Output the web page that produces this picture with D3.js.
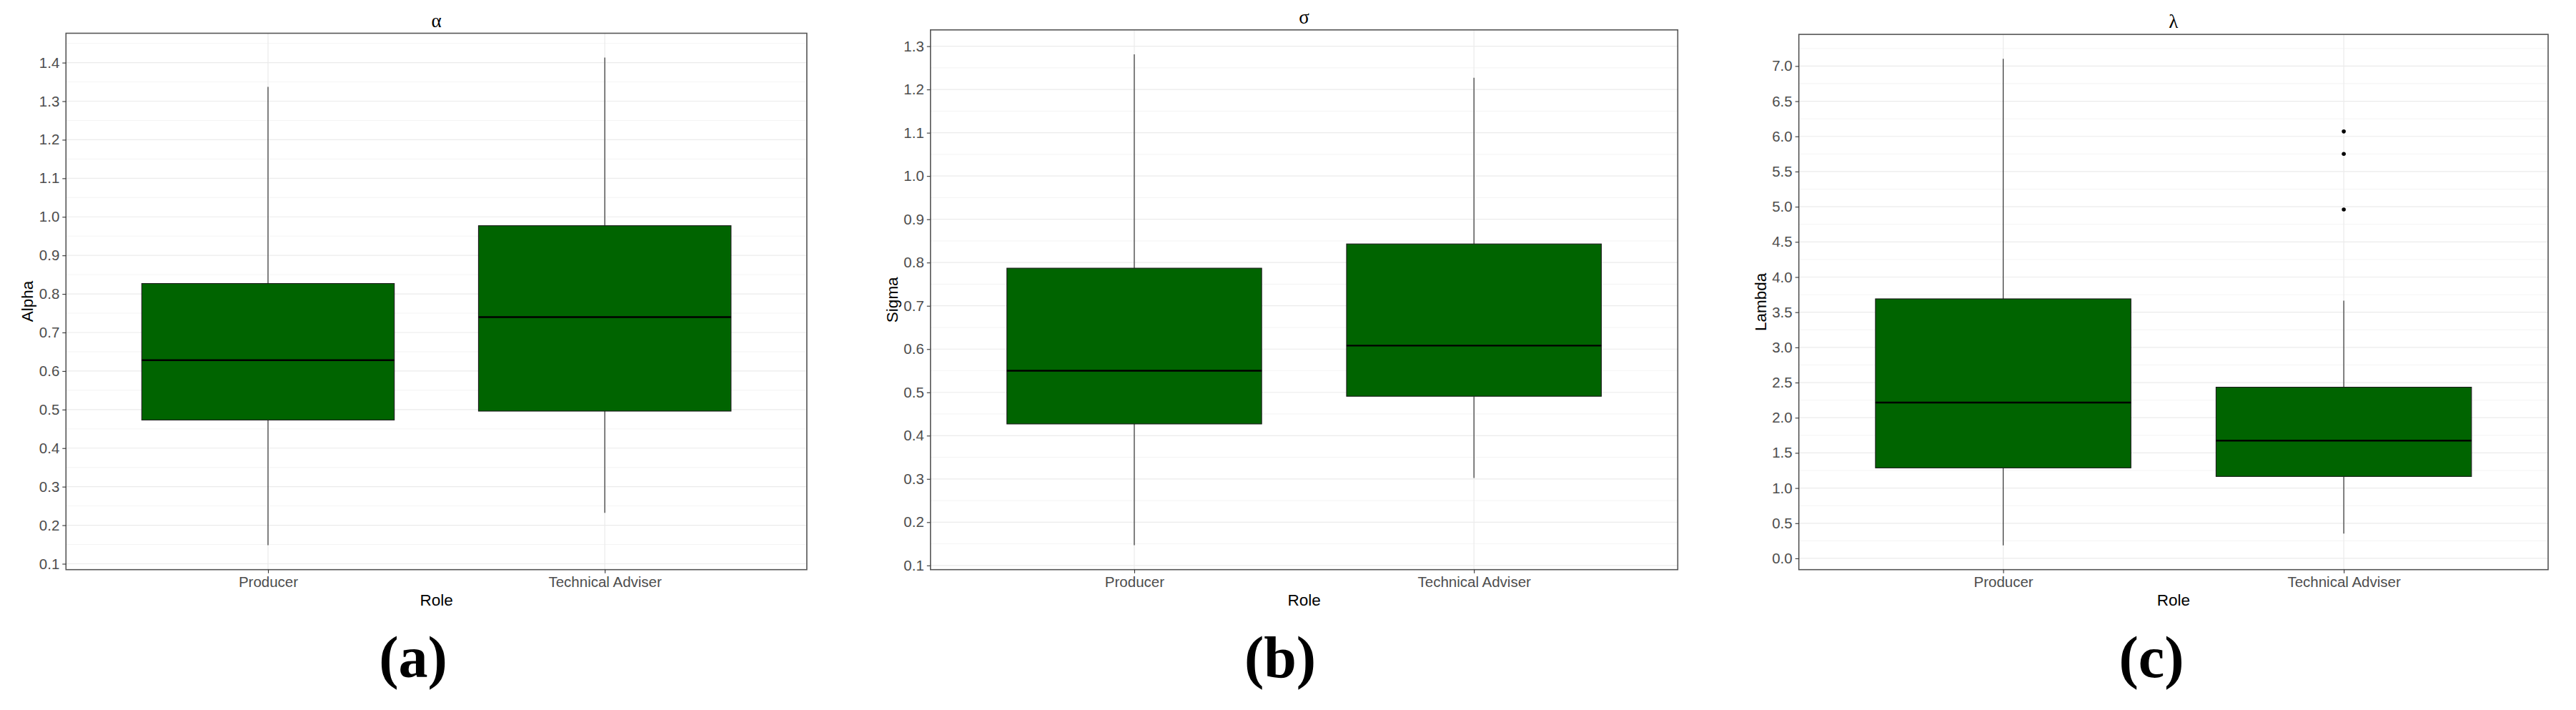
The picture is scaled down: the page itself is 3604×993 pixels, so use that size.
<!DOCTYPE html>
<html>
<head>
<meta charset="utf-8">
<script src="https://cdn.jsdelivr.net/npm/d3@7"></script>
<style>
    body { margin: 0; background: #fff; }
    svg text { font-family: "Liberation Sans", Arial, sans-serif; }
</style>
</head>
<body>
<div id="chart"></div>
<script>
const roles = ["Producer", "Technical Adviser"];

// [lower whisker, Q1, median, Q3, upper whisker] per role
const alphaBox = [
    [0.148, 0.473, 0.628, 0.827, 1.337],
    [0.232, 0.496, 0.740, 0.977, 1.413]
];
const sigmaBox = [
    [0.147, 0.427, 0.550, 0.787, 1.281],
    [0.302, 0.491, 0.608, 0.843, 1.227]
];
const lambdaBox = [
    [0.186, 1.287, 2.215, 3.690, 7.104],
    [0.354, 1.165, 1.674, 2.434, 3.664]
];

const alphaOutliers = [[], []];
const sigmaOutliers = [[], []];
const lambdaOutliers = [[], [4.96, 5.75, 6.07]];

const alphaTicks = [0.1, 0.2, 0.3, 0.4, 0.5, 0.6, 0.7, 0.8, 0.9, 1.0, 1.1, 1.2, 1.3, 1.4];
const sigmaTicks = [0.1, 0.2, 0.3, 0.4, 0.5, 0.6, 0.7, 0.8, 0.9, 1.0, 1.1, 1.2, 1.3];
const lambdaTicks = [0.0, 0.5, 1.0, 1.5, 2.0, 2.5, 3.0, 3.5, 4.0, 4.5, 5.0, 5.5, 6.0, 6.5, 7.0];

const W = 3604, H = 993;
const bottom = 796.7;

const panels = [
    {title: "α", ylab: "Alpha", tag: "(a)", box: alphaBox, out: alphaOutliers, ticks: alphaTicks,
        left: 92.3, right: 1128.8, top: 46.5, tagX: 578},
    {title: "σ", ylab: "Sigma", tag: "(b)", box: sigmaBox, out: sigmaOutliers, ticks: sigmaTicks,
        left: 1301.8, right: 2347.3, top: 41.8, tagX: 1791},
    {title: "λ", ylab: "Lambda", tag: "(c)", box: lambdaBox, out: lambdaOutliers, ticks: lambdaTicks,
        left: 2516.7, right: 3565, top: 48.1, tagX: 3010}
];

const svg = d3.select("#chart").append("svg")
    .attr("width", W)
    .attr("height", H)
    .style("display", "block");

svg.append("rect").attr("width", W).attr("height", H).attr("fill", "#fff");

panels.forEach(drawPanel);

function drawPanel(p) {
    // ggplot style 5% expansion around all values
    const all = p.box.flat().concat(p.out.flat());
    const lo = d3.min(all), hi = d3.max(all), pad = (hi - lo) * 0.05;

    const y = d3.scaleLinear()
        .domain([lo - pad, hi + pad])
        .range([bottom, p.top]);

    const x = d3.scalePoint()
        .domain(roles)
        .range([p.left, p.right])
        .padding(0.6);

    const boxW = x.step() * 0.75;
    const g = svg.append("g");

    // minor grid between major ticks
    const step = p.ticks[1] - p.ticks[0];
    const minor = p.ticks.map(t => t - step / 2).concat([p.ticks[p.ticks.length - 1] + step / 2])
        .filter(v => v > y.domain()[0] && v < y.domain()[1]);

    g.selectAll(".minor").data(minor).enter().append("line")
        .attr("x1", p.left).attr("x2", p.right)
        .attr("y1", d => y(d)).attr("y2", d => y(d))
        .attr("stroke", "#efefef").attr("stroke-width", 0.7);

    g.selectAll(".major").data(p.ticks).enter().append("line")
        .attr("x1", p.left).attr("x2", p.right)
        .attr("y1", d => y(d)).attr("y2", d => y(d))
        .attr("stroke", "#ebebeb").attr("stroke-width", 1.2);

    g.selectAll(".vgrid").data(roles).enter().append("line")
        .attr("x1", d => x(d)).attr("x2", d => x(d))
        .attr("y1", p.top).attr("y2", bottom)
        .attr("stroke", "#ebebeb").attr("stroke-width", 1.2);

    const boxes = g.selectAll(".box").data(p.box).enter().append("g");

    // whiskers
    boxes.append("line")
        .attr("x1", (d, i) => x(roles[i])).attr("x2", (d, i) => x(roles[i]))
        .attr("y1", d => y(d[0])).attr("y2", d => y(d[1]))
        .attr("stroke", "#222").attr("stroke-width", 1.1);
    boxes.append("line")
        .attr("x1", (d, i) => x(roles[i])).attr("x2", (d, i) => x(roles[i]))
        .attr("y1", d => y(d[3])).attr("y2", d => y(d[4]))
        .attr("stroke", "#222").attr("stroke-width", 1.1);

    boxes.append("rect")
        .attr("x", (d, i) => x(roles[i]) - boxW / 2)
        .attr("width", boxW)
        .attr("y", d => y(d[3]))
        .attr("height", d => y(d[1]) - y(d[3]))
        .attr("fill", "#006400")
        .attr("stroke", "#1a1a1a").attr("stroke-width", 1.1);

    boxes.append("line")
        .attr("x1", (d, i) => x(roles[i]) - boxW / 2)
        .attr("x2", (d, i) => x(roles[i]) + boxW / 2)
        .attr("y1", d => y(d[2])).attr("y2", d => y(d[2]))
        .attr("stroke", "#000").attr("stroke-width", 2.4);

    p.out.forEach((vals, i) => {
        g.selectAll(null).data(vals).enter().append("circle")
            .attr("cx", x(roles[i]))
            .attr("cy", d => y(d))
            .attr("r", 2.8)
            .attr("fill", "#000");
    });

    // panel border
    g.append("rect")
        .attr("x", p.left).attr("y", p.top)
        .attr("width", p.right - p.left).attr("height", bottom - p.top)
        .attr("fill", "none")
        .attr("stroke", "#555").attr("stroke-width", 1.6);

    const yAxis = d3.axisLeft(y)
        .tickValues(p.ticks)
        .tickFormat(d3.format(".1f"))
        .tickSize(5)
        .tickPadding(4);

    const xAxis = d3.axisBottom(x)
        .tickSize(5)
        .tickPadding(5);

    const ya = g.append("g").attr("transform", "translate(" + p.left + ",0)").call(yAxis);
    const xa = g.append("g").attr("transform", "translate(0," + bottom + ")").call(xAxis);

    [ya, xa].forEach(a => {
        a.select(".domain").remove();
        a.selectAll(".tick line").attr("stroke", "#333").attr("stroke-width", 1.1);
        a.selectAll(".tick text")
            .attr("fill", "#4d4d4d")
            .style("font-size", "20.5px");
    });

    // titles
    g.append("text")
        .attr("x", (p.left + p.right) / 2)
        .attr("y", p.top - 9)
        .attr("text-anchor", "middle")
        .style("font-family", "'Liberation Serif', 'Times New Roman', serif")
        .style("font-size", "27px")
        .text(p.title);

    g.append("text")
        .attr("x", (p.left + p.right) / 2)
        .attr("y", 847.3)
        .attr("text-anchor", "middle")
        .style("font-size", "22.5px")
        .text("Role");

    g.append("text")
        .attr("transform", "translate(" + (p.left - 46) + "," + ((p.top + bottom) / 2) + ") rotate(-90)")
        .attr("text-anchor", "middle")
        .style("font-size", "22.5px")
        .text(p.ylab);

    g.append("text")
        .attr("x", p.tagX)
        .attr("y", 946.7)
        .attr("text-anchor", "middle")
        .style("font-family", "'Liberation Serif', 'Times New Roman', serif")
        .style("font-weight", "bold")
        .style("font-size", "82px")
        .text(p.tag);
}
</script>
</body>
</html>
